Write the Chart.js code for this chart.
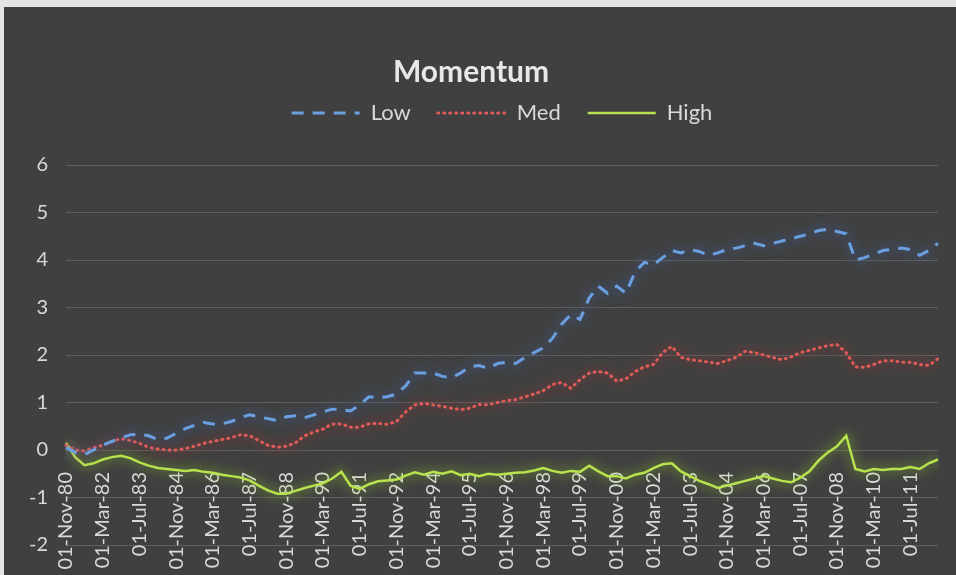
<!DOCTYPE html>
<html>
<head>
<meta charset="utf-8">
<script src="https://cdn.jsdelivr.net/npm/chart.js@4.4.1/dist/chart.umd.min.js"></script>
<style>
html, body { margin: 0; padding: 0; background: #e4e4e4; }
#marco { position: absolute; left: 4px; top: 7px; width: 952px; height: 568px; background: #404040; }
</style>
</head>
<body>
<div id="marco"><canvas id="momentum"></canvas></div>
<script>
// fechas cada 4 meses (01-Nov-80 ... 01-Jul-12)
const fechas = [
  "01-Nov-80", "01-Mar-81", "01-Jul-81", "01-Nov-81", "01-Mar-82", "01-Jul-82", "01-Nov-82", "01-Mar-83",
  "01-Jul-83", "01-Nov-83", "01-Mar-84", "01-Jul-84", "01-Nov-84", "01-Mar-85", "01-Jul-85", "01-Nov-85",
  "01-Mar-86", "01-Jul-86", "01-Nov-86", "01-Mar-87", "01-Jul-87", "01-Nov-87", "01-Mar-88", "01-Jul-88",
  "01-Nov-88", "01-Mar-89", "01-Jul-89", "01-Nov-89", "01-Mar-90", "01-Jul-90", "01-Nov-90", "01-Mar-91",
  "01-Jul-91", "01-Nov-91", "01-Mar-92", "01-Jul-92", "01-Nov-92", "01-Mar-93", "01-Jul-93", "01-Nov-93",
  "01-Mar-94", "01-Jul-94", "01-Nov-94", "01-Mar-95", "01-Jul-95", "01-Nov-95", "01-Mar-96", "01-Jul-96",
  "01-Nov-96", "01-Mar-97", "01-Jul-97", "01-Nov-97", "01-Mar-98", "01-Jul-98", "01-Nov-98", "01-Mar-99",
  "01-Jul-99", "01-Nov-99", "01-Mar-00", "01-Jul-00", "01-Nov-00", "01-Mar-01", "01-Jul-01", "01-Nov-01",
  "01-Mar-02", "01-Jul-02", "01-Nov-02", "01-Mar-03", "01-Jul-03", "01-Nov-03", "01-Mar-04", "01-Jul-04",
  "01-Nov-04", "01-Mar-05", "01-Jul-05", "01-Nov-05", "01-Mar-06", "01-Jul-06", "01-Nov-06", "01-Mar-07",
  "01-Jul-07", "01-Nov-07", "01-Mar-08", "01-Jul-08", "01-Nov-08", "01-Mar-09", "01-Jul-09", "01-Nov-09",
  "01-Mar-10", "01-Jul-10", "01-Nov-10", "01-Mar-11", "01-Jul-11", "01-Nov-11", "01-Mar-12", "01-Jul-12"
];

const low = [
  0.05, -0.05, -0.10, 0.00, 0.10, 0.18, 0.25, 0.32, 0.33, 0.30,
  0.22, 0.25, 0.35, 0.45, 0.52, 0.58, 0.55, 0.55, 0.60, 0.68,
  0.74, 0.70, 0.66, 0.62, 0.70, 0.72, 0.68, 0.74, 0.80, 0.86,
  0.85, 0.82, 0.95, 1.12, 1.10, 1.12, 1.18, 1.35, 1.62, 1.62,
  1.62, 1.55, 1.52, 1.62, 1.75, 1.78, 1.72, 1.82, 1.85, 1.82,
  1.95, 2.05, 2.15, 2.35, 2.65, 2.85, 2.75, 3.20, 3.45, 3.30,
  3.45, 3.30, 3.75, 3.95, 3.90, 4.05, 4.20, 4.15, 4.22, 4.18,
  4.10, 4.15, 4.22, 4.25, 4.30, 4.35, 4.30, 4.35, 4.40, 4.45,
  4.50, 4.55, 4.62, 4.65, 4.60, 4.55, 4.00, 4.05, 4.12, 4.20,
  4.22, 4.25, 4.22, 4.10, 4.20, 4.35
];

const med = [
  0.10, 0.00, -0.02, 0.05, 0.10, 0.18, 0.24, 0.20, 0.14, 0.06,
  0.02, 0.00, 0.00, 0.03, 0.08, 0.14, 0.18, 0.22, 0.26, 0.32,
  0.30, 0.20, 0.10, 0.06, 0.08, 0.15, 0.30, 0.38, 0.44, 0.55,
  0.55, 0.48, 0.48, 0.55, 0.56, 0.54, 0.60, 0.80, 0.95, 0.98,
  0.95, 0.92, 0.88, 0.85, 0.88, 0.96, 0.95, 1.00, 1.04, 1.06,
  1.12, 1.18, 1.25, 1.38, 1.42, 1.30, 1.48, 1.62, 1.65, 1.62,
  1.45, 1.50, 1.65, 1.75, 1.80, 2.05, 2.18, 1.95, 1.90, 1.88,
  1.85, 1.82, 1.88, 1.95, 2.08, 2.05, 2.00, 1.95, 1.90, 1.96,
  2.05, 2.10, 2.15, 2.20, 2.22, 2.05, 1.75, 1.74, 1.80, 1.88,
  1.88, 1.85, 1.85, 1.80, 1.78, 1.92
];

const high = [
  0.15, -0.15, -0.32, -0.28, -0.20, -0.15, -0.12, -0.17, -0.26, -0.33,
  -0.38, -0.40, -0.42, -0.44, -0.42, -0.46, -0.48, -0.52, -0.55, -0.58,
  -0.64, -0.75, -0.85, -0.92, -0.92, -0.86, -0.80, -0.75, -0.70, -0.60,
  -0.46, -0.75, -0.82, -0.72, -0.66, -0.64, -0.62, -0.54, -0.47, -0.52,
  -0.46, -0.50, -0.45, -0.53, -0.50, -0.55, -0.50, -0.52, -0.50, -0.48,
  -0.47, -0.43, -0.38, -0.44, -0.48, -0.44, -0.46, -0.33, -0.45, -0.55,
  -0.55, -0.60, -0.52, -0.48, -0.38, -0.30, -0.28, -0.45, -0.55, -0.65,
  -0.72, -0.80, -0.75, -0.70, -0.65, -0.60, -0.55, -0.60, -0.65, -0.68,
  -0.58, -0.45, -0.22, -0.05, 0.08, 0.30, -0.40, -0.45, -0.40, -0.42,
  -0.40, -0.40, -0.36, -0.40, -0.28, -0.20
];

const texto = "#d9d9d9";
const fuente = "Lato";

// brillo alrededor de cada linea (como el "glow" de Excel)
const brillo = {
  id: "brillo",
  beforeDatasetDraw(chart, args) {
    const ds = chart.data.datasets[args.index];
    chart.ctx.save();
    chart.ctx.shadowColor = ds.brillo;
    chart.ctx.shadowBlur = 12;
  },
  afterDatasetDraw(chart) {
    chart.ctx.restore();
  }
};

new Chart(document.getElementById("momentum"), {
  type: "line",
  data: {
    labels: fechas,
    datasets: [
      { label: "Low", data: low, borderColor: "#6b9fe0", brillo: "rgba(60,110,200,1)", borderWidth: 3, borderDash: [12, 9], pointRadius: 0, xAxisID: "x", yAxisID: "y" },
      { label: "Med", data: med, borderColor: "#e05c58", brillo: "rgba(200,50,50,1)", borderWidth: 3, borderDash: [1, 5], borderCapStyle: "round", pointRadius: 0, xAxisID: "x", yAxisID: "y" },
      { label: "High", data: high, borderColor: "#b8e24e", brillo: "rgba(150,210,40,1)", borderWidth: 2.5, pointRadius: 0, xAxisID: "x", yAxisID: "y" }
    ]
  },
  options: {
    responsive: true,
    maintainAspectRatio: false,
    animation: false,
    layout: { padding: { top: 0, right: 18, bottom: 27, left: 0 } },
    plugins: {
      title: {
        display: true,
        text: "Momentum",
        color: "#e8e8e8",
        font: { family: fuente, size: 30, weight: "bold" },
        padding: { top: 47, bottom: -15 }
      },
      legend: {
        fullSize: false,
        labels: {
          color: texto,
          font: { family: fuente, size: 22 },
          usePointStyle: true,
          pointStyle: "line",
          pointStyleWidth: 68,
          padding: 27,
          // el estilo de linea de cada serie tambien en la leyenda
          generateLabels: (chart) => {
            const items = Chart.defaults.plugins.legend.labels.generateLabels(chart);
            items.forEach((it, i) => {
              const ds = chart.data.datasets[i];
              it.lineDash = ds.borderDash || [];
              it.lineCap = ds.borderCapStyle || "butt";
              it.lineWidth = ds.borderWidth;
              it.strokeStyle = ds.borderColor;
            });
            return items;
          }
        }
      },
      tooltip: { enabled: false }
    },
    scales: {
      x: {
        position: { y: 0 },
        grid: { display: false },
        border: { display: false },
        ticks: {
          autoSkip: false,
          maxRotation: 90,
          minRotation: 90,
          padding: 14,
          color: texto,
          font: { family: fuente, size: 20 },
          callback: function (v, i) {
            return i % 4 === 0 && i < 93 ? this.getLabelForValue(v) : null;
          }
        }
      },
      espacio: {
        type: "linear",
        position: "top",
        grid: { display: false },
        border: { display: false },
        ticks: { display: false },
        afterFit: (s) => { s.height = 31; }
      },
      y: {
        min: -2,
        max: 6,
        grid: { color: "#5e5e5e", lineWidth: 1, drawTicks: false },
        border: { display: false },
        ticks: { stepSize: 1, padding: 18, color: texto, font: { family: fuente, size: 20 } },
        afterFit: (s) => { s.width = 62; }
      }
    }
  },
  plugins: [brillo]
});
</script>
</body>
</html>
